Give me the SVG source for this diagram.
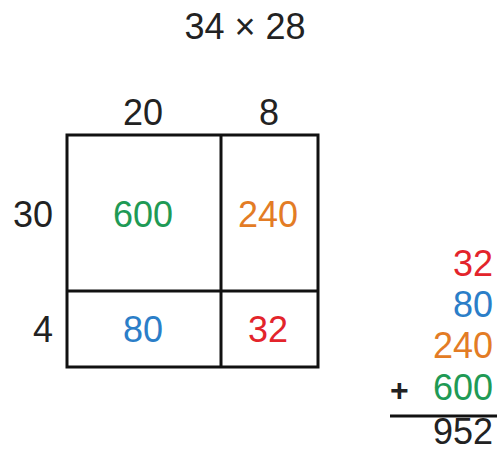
<svg xmlns="http://www.w3.org/2000/svg" width="497" height="456" viewBox="0 0 497 456">
<style>
text{font-family:"Liberation Sans",Arial,sans-serif;font-size:36px;fill:#222}
.c{text-anchor:middle}
.r{text-anchor:end}
.g{fill:#1f9a55}.o{fill:#e37c25}.b{fill:#2b7ec8}.red{fill:#e3242b}
.ln{stroke:#111;stroke-width:3;fill:none}
</style>
<rect width="497" height="456" fill="#fff"/>
<g id="title"><text class="c" x="245" y="39">34 × 28</text></g>
<g id="grid">
<rect class="ln" x="67" y="135" width="251" height="232"/>
<line class="ln" x1="221" y1="135" x2="221" y2="367"/>
<line class="ln" x1="67" y1="291" x2="318" y2="291"/>
</g>
<g id="labels">
<text class="c" x="143" y="125">20</text>
<text class="c" x="269" y="125">8</text>
<text class="r" x="53" y="227">30</text>
<text class="r" x="53" y="342">4</text>
</g>
<g id="cells">
<text class="c g" x="143" y="227">600</text>
<text class="c o" x="268" y="227">240</text>
<text class="c b" x="143" y="342">80</text>
<text class="c red" x="268" y="342">32</text>
</g>
<g id="sum">
<text class="r red" x="493" y="276">32</text>
<text class="r b" x="493" y="317">80</text>
<text class="r o" x="493" y="358">240</text>
<text class="r g" x="493" y="400">600</text>
<text x="390" y="401" style="font-size:32px;font-weight:bold">+</text>
<line x1="390" y1="416" x2="497" y2="416" stroke="#111" stroke-width="3"/>
<text class="r" x="493" y="444">952</text>
</g>
</svg>
